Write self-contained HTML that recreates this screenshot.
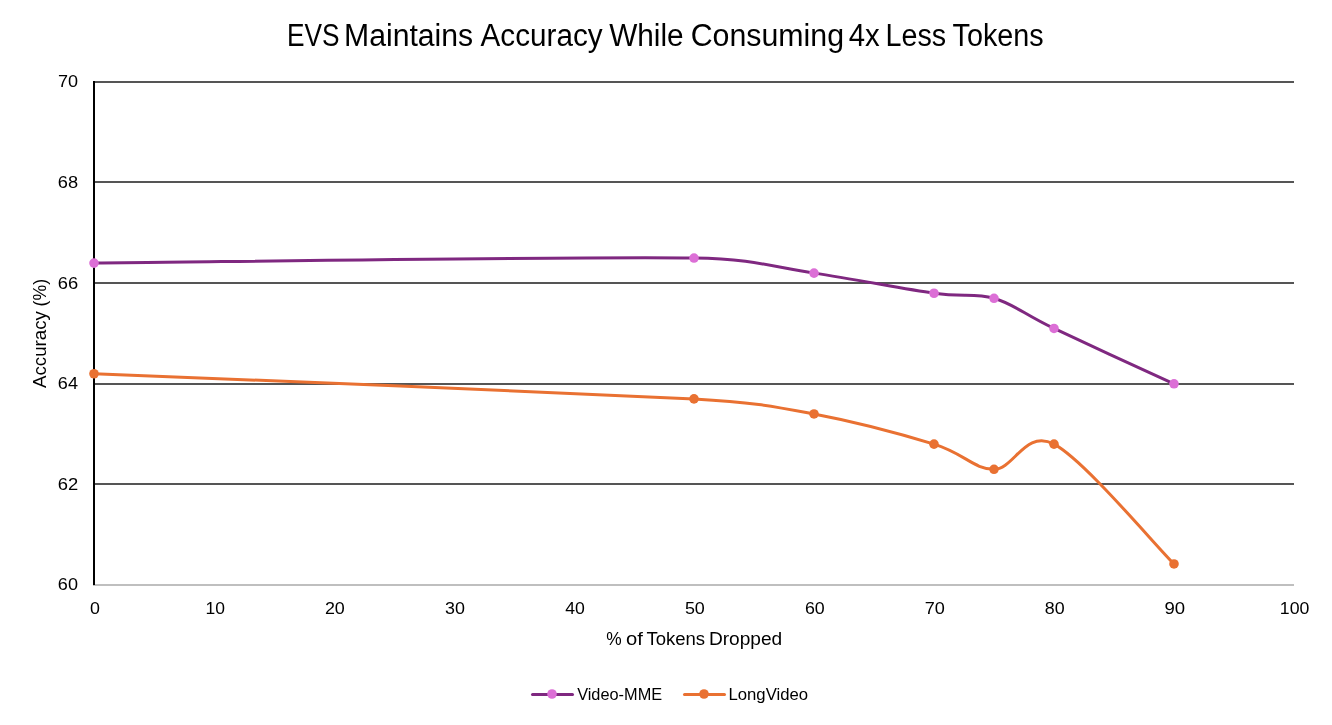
<!DOCTYPE html><html><head><meta charset="utf-8"><title>EVS chart</title><style>html,body{margin:0;padding:0;background:#fff;overflow:hidden;}svg{display:block;will-change:transform;}text{font-family:"Liberation Sans",sans-serif;fill:#000;}</style></head><body>
<svg width="1332" height="725" viewBox="0 0 1332 725">
<rect width="1332" height="725" fill="#fff"/>
<rect x="93" y="81" width="1201" height="2" fill="#555555"/>
<rect x="93" y="181" width="1201" height="2" fill="#555555"/>
<rect x="93" y="282" width="1201" height="2" fill="#555555"/>
<rect x="93" y="383" width="1201" height="2" fill="#555555"/>
<rect x="93" y="483" width="1201" height="2" fill="#555555"/>
<rect x="93" y="584" width="1201" height="2" fill="#BFBFBF"/>
<rect x="93" y="81" width="2" height="504" fill="#000"/>
<text x="286.97" y="46.10" font-size="30.60" textLength="52.54" lengthAdjust="spacingAndGlyphs">EVS</text>
<text x="344.03" y="46.10" font-size="30.60" textLength="129.19" lengthAdjust="spacingAndGlyphs">Maintains</text>
<text x="480.59" y="46.10" font-size="30.60" textLength="121.96" lengthAdjust="spacingAndGlyphs">Accuracy</text>
<text x="609.13" y="46.10" font-size="30.60" textLength="74.45" lengthAdjust="spacingAndGlyphs">While</text>
<text x="690.73" y="46.10" font-size="30.60" textLength="153.33" lengthAdjust="spacingAndGlyphs">Consuming</text>
<text x="848.72" y="46.10" font-size="30.60" textLength="31.00" lengthAdjust="spacingAndGlyphs">4x</text>
<text x="885.54" y="46.10" font-size="30.60" textLength="60.60" lengthAdjust="spacingAndGlyphs">Less</text>
<text x="952.61" y="46.10" font-size="30.60" textLength="91.03" lengthAdjust="spacingAndGlyphs">Tokens</text>
<text x="57.92" y="86.70" font-size="17.00" textLength="20.09" lengthAdjust="spacingAndGlyphs">70</text>
<text x="57.85" y="187.60" font-size="17.00" textLength="20.29" lengthAdjust="spacingAndGlyphs">68</text>
<text x="57.84" y="288.50" font-size="17.00" textLength="20.41" lengthAdjust="spacingAndGlyphs">66</text>
<text x="57.87" y="388.90" font-size="17.00" textLength="20.10" lengthAdjust="spacingAndGlyphs">64</text>
<text x="57.84" y="489.50" font-size="17.00" textLength="20.48" lengthAdjust="spacingAndGlyphs">62</text>
<text x="57.87" y="589.60" font-size="17.00" textLength="20.11" lengthAdjust="spacingAndGlyphs">60</text>
<text x="89.98" y="613.70" font-size="17.00" textLength="9.93" lengthAdjust="spacingAndGlyphs">0</text>
<text x="205.49" y="613.70" font-size="17.00" textLength="19.46" lengthAdjust="spacingAndGlyphs">10</text>
<text x="324.90" y="613.70" font-size="17.00" textLength="19.94" lengthAdjust="spacingAndGlyphs">20</text>
<text x="444.94" y="613.70" font-size="17.00" textLength="19.92" lengthAdjust="spacingAndGlyphs">30</text>
<text x="565.31" y="613.70" font-size="17.00" textLength="19.65" lengthAdjust="spacingAndGlyphs">40</text>
<text x="684.91" y="613.70" font-size="17.00" textLength="19.95" lengthAdjust="spacingAndGlyphs">50</text>
<text x="804.91" y="613.70" font-size="17.00" textLength="19.83" lengthAdjust="spacingAndGlyphs">60</text>
<text x="924.73" y="613.70" font-size="17.00" textLength="20.15" lengthAdjust="spacingAndGlyphs">70</text>
<text x="1044.85" y="613.70" font-size="17.00" textLength="19.87" lengthAdjust="spacingAndGlyphs">80</text>
<text x="1164.42" y="613.70" font-size="17.00" textLength="20.66" lengthAdjust="spacingAndGlyphs">90</text>
<text x="1279.80" y="613.70" font-size="17.00" textLength="29.58" lengthAdjust="spacingAndGlyphs">100</text>
<text x="606.21" y="644.80" font-size="18.80" textLength="15.43" lengthAdjust="spacingAndGlyphs">%</text>
<text x="626.14" y="644.80" font-size="18.80" textLength="16.85" lengthAdjust="spacingAndGlyphs">of</text>
<text x="646.39" y="644.80" font-size="18.80" textLength="58.73" lengthAdjust="spacingAndGlyphs">Tokens</text>
<text x="708.93" y="644.80" font-size="18.80" textLength="73.33" lengthAdjust="spacingAndGlyphs">Dropped</text>
<text transform="translate(45.90 388.12) rotate(-90)" font-size="18.80" textLength="77.11" lengthAdjust="spacingAndGlyphs">Accuracy</text>
<text transform="translate(45.90 306.45) rotate(-90)" font-size="18.80" textLength="27.55" lengthAdjust="spacingAndGlyphs">(%)</text>
<text x="577.15" y="699.70" font-size="16.20" textLength="84.99" lengthAdjust="spacingAndGlyphs">Video-MME</text>
<text x="728.49" y="699.70" font-size="16.20" textLength="79.58" lengthAdjust="spacingAndGlyphs">LongVideo</text>
<path d="M94.00 263.08 C194.00 262.24 574.00 256.37 694.00 258.05 C754.47 258.89 774.00 267.27 814.00 273.14 C854.00 279.01 904.00 289.07 934.00 293.26 C963.82 297.43 974.00 292.42 994.00 298.29 C1014.00 304.16 1024.00 314.22 1054.00 328.47 C1084.00 342.72 1154.00 374.58 1174.00 383.80" fill="none" stroke="#7F2880" stroke-width="3" stroke-linecap="round" stroke-linejoin="round"/>
<circle cx="94.00" cy="263.08" r="4.80" fill="#DC6FD6"/>
<circle cx="694.00" cy="258.05" r="4.80" fill="#DC6FD6"/>
<circle cx="814.00" cy="273.14" r="4.80" fill="#DC6FD6"/>
<circle cx="934.00" cy="293.26" r="4.80" fill="#DC6FD6"/>
<circle cx="994.00" cy="298.29" r="4.80" fill="#DC6FD6"/>
<circle cx="1054.00" cy="328.47" r="4.80" fill="#DC6FD6"/>
<circle cx="1174.00" cy="383.80" r="4.80" fill="#DC6FD6"/>
<path d="M94.00 373.74 C194.00 377.93 574.00 392.18 694.00 398.89 C754.38 402.26 774.00 406.44 814.00 413.98 C854.00 421.53 904.00 434.94 934.00 444.16 C964.00 453.38 974.00 469.31 994.00 469.31 C1014.00 469.31 1025.21 429.02 1054.00 444.16 C1084.00 459.94 1154.00 544.01 1174.00 563.97" fill="none" stroke="#E97132" stroke-width="3" stroke-linecap="round" stroke-linejoin="round"/>
<circle cx="94.00" cy="373.74" r="4.80" fill="#E97132"/>
<circle cx="694.00" cy="398.89" r="4.80" fill="#E97132"/>
<circle cx="814.00" cy="413.98" r="4.80" fill="#E97132"/>
<circle cx="934.00" cy="444.16" r="4.80" fill="#E97132"/>
<circle cx="994.00" cy="469.31" r="4.80" fill="#E97132"/>
<circle cx="1054.00" cy="444.16" r="4.80" fill="#E97132"/>
<circle cx="1174.00" cy="563.97" r="4.80" fill="#E97132"/>
<line x1="532.5" y1="694.5" x2="572.5" y2="694.5" stroke="#7F2880" stroke-width="3" stroke-linecap="round"/>
<circle cx="552" cy="694" r="4.80" fill="#DC6FD6"/>
<line x1="684.5" y1="694.5" x2="724.5" y2="694.5" stroke="#E97132" stroke-width="3" stroke-linecap="round"/>
<circle cx="704" cy="694" r="4.80" fill="#E97132"/>
</svg></body></html>
